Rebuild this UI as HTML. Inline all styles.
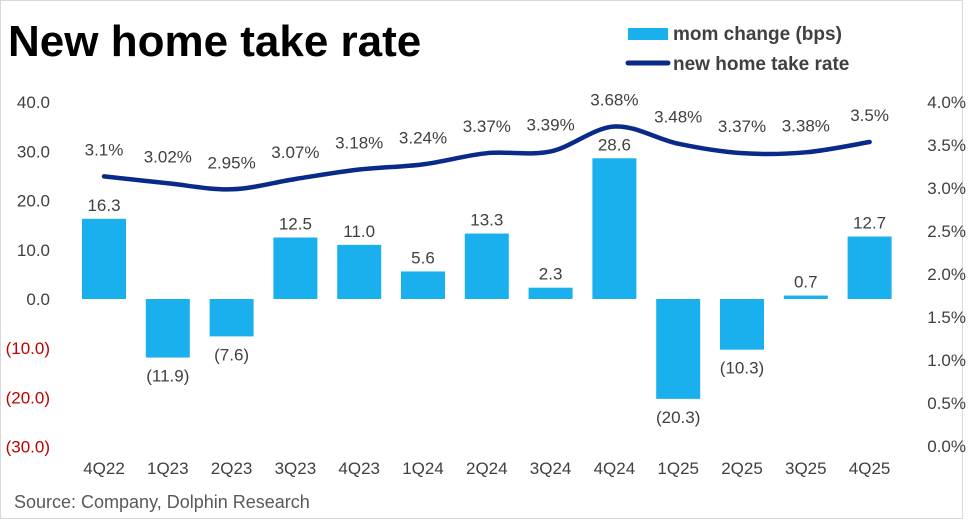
<!DOCTYPE html>
<html><head><meta charset="utf-8"><style>
body{margin:0;background:#fff;}
svg text{font-family:"Liberation Sans","DejaVu Sans",sans-serif;}
</style></head><body>
<svg width="969" height="520" viewBox="0 0 969 520">
<rect x="0.5" y="0.5" width="962" height="518" fill="#fff" stroke="#d9d9d9"/>
<text x="8" y="56" font-size="44" font-weight="bold" fill="#000">New home take rate</text>
<g>
<rect x="628" y="28" width="40" height="12" fill="#1ab0ee"/>
<text x="673" y="40" font-size="19" font-weight="bold" fill="#404040">mom change (bps)</text>
<line x1="628" y1="63" x2="668" y2="63" stroke="#0a2a8a" stroke-width="5" stroke-linecap="round"/>
<text x="673" y="70" font-size="19" font-weight="bold" fill="#404040">new home take rate</text>
</g>
<g id="left-axis"></g>
<g id="right-axis"></g>
<g id="bars"></g>
<g id="line"></g>
<g id="xaxis"></g>
<text x="14" y="508" font-size="18" fill="#595959">Source: Company, Dolphin Research</text>
</svg>
<script>
const categories=["4Q22","1Q23","2Q23","3Q23","4Q23","1Q24","2Q24","3Q24","4Q24","1Q25","2Q25","3Q25","4Q25"];
const momChange=[16.3,-11.9,-7.6,12.5,11.0,5.6,13.3,2.3,28.6,-20.3,-10.3,0.7,12.7];
const takeRate=[3.1,3.02,2.95,3.07,3.18,3.24,3.37,3.39,3.68,3.48,3.37,3.38,3.5];
const rateLabels=["3.1%","3.02%","2.95%","3.07%","3.18%","3.24%","3.37%","3.39%","3.68%","3.48%","3.37%","3.38%","3.5%"];
const leftTicks=[40,30,20,10,0,-10,-20,-30];
const rightTicks=[4.0,3.5,3.0,2.5,2.0,1.5,1.0,0.5,0.0];
const NS="http://www.w3.org/2000/svg";
const yL=v=>299-v*4.92;
const yR=v=>443-v*86;
const xC=i=>104+i*63.8;
function mk(tag,attrs,parent,txt){const e=document.createElementNS(NS,tag);for(const k in attrs)e.setAttribute(k,attrs[k]);if(txt!=null)e.textContent=txt;parent.appendChild(e);return e;}
const fmtL=v=>v<0?"("+Math.abs(v).toFixed(1)+")":v.toFixed(1);
const la=document.getElementById('left-axis');
leftTicks.forEach(v=>{const t=mk('text',{x:50,y:yL(v)+6,'font-size':17,'text-anchor':'end',fill:v<0?'#c00000':'#404040'},la,fmtL(v));

});
const ra=document.getElementById('right-axis');
rightTicks.forEach(v=>{const t=mk('text',{x:966,y:446-v*86+6,'font-size':17,'text-anchor':'end',fill:'#404040'},ra,v.toFixed(1)+"%");

});
const bg=document.getElementById('bars');
momChange.forEach((v,i)=>{const y0=yL(0),y1=yL(v);
const r=mk('rect',{x:xC(i)-22,y:Math.min(y0,y1),width:44,height:Math.abs(y1-y0),fill:'#1ab0ee'},bg);


const ly=v>=0?y1-8:y1+24;
const t=mk('text',{x:xC(i),y:ly,'font-size':17,'text-anchor':'middle',fill:'#404040'},bg,fmtL(v));

});
const lg=document.getElementById('line');
const pts=takeRate.map((v,i)=>[xC(i),yR(v)]);
let d="M"+pts[0][0]+","+pts[0][1];
for(let i=0;i<pts.length-1;i++){const p0=pts[Math.max(0,i-1)],p1=pts[i],p2=pts[i+1],p3=pts[Math.min(pts.length-1,i+2)];
const c1=[p1[0]+(p2[0]-p0[0])/6,p1[1]+(p2[1]-p0[1])/6],c2=[p2[0]-(p3[0]-p1[0])/6,p2[1]-(p3[1]-p1[1])/6];
d+=" C"+c1+" "+c2+" "+p2;}
const path=mk('path',{d:d,fill:'none',stroke:'#0a2a8a','stroke-width':4.5,'stroke-linecap':'round'},lg);


takeRate.forEach((v,i)=>{const t=mk('text',{x:xC(i),y:yR(v)-21,'font-size':17,'text-anchor':'middle',fill:'#404040'},lg,rateLabels[i]);

});
const xa=document.getElementById('xaxis');
categories.forEach((c,i)=>{const t=mk('text',{x:xC(i),y:474,'font-size':17,'text-anchor':'middle',fill:'#404040'},xa,c);

});
</script>
</body></html>
